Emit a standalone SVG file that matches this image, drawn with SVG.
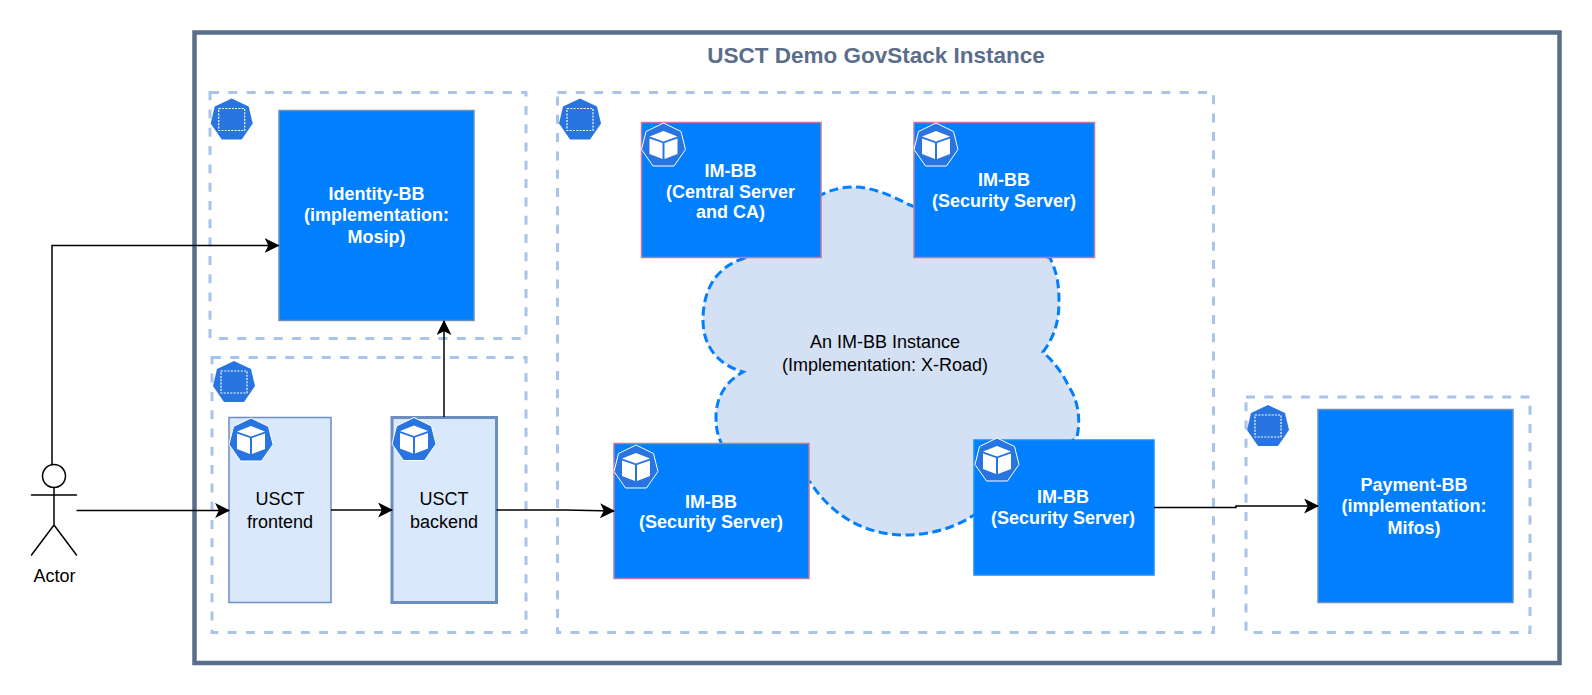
<svg xmlns="http://www.w3.org/2000/svg" xmlns:xlink="http://www.w3.org/1999/xlink" width="1592" height="695" viewBox="0 0 1592 695">
<style>
text{font-family:"Liberation Sans",Arial,sans-serif;font-size:18px;text-anchor:middle;fill:#000}
.w{fill:#fff;font-weight:bold}
.ns{fill:none;stroke:#a9c4eb;stroke-width:3;stroke-dasharray:9 9.300}
.bb{fill:#007fff;stroke-width:1.5}
.pk{stroke:#c07aa0}
.bl{stroke:#6c8ebf}
.lt{fill:#dae8fc;stroke:#6c8ebf;stroke-width:1.5}
.c{fill:none;stroke:#000;stroke-width:1.5}
.a{fill:none;stroke:#000;stroke-width:1.5;stroke-linecap:round}
</style>
<defs>
<marker id="ah" viewBox="0 0 14 14" refX="13" refY="7" markerWidth="15" markerHeight="15" markerUnits="userSpaceOnUse" orient="auto"><path d="M0 0L14 7L0 14L3.5 7Z" fill="#000"/></marker>
<g id="ns-icon"><path d="M0-21L17-13L21 4L10 20L-10 20L-21 4L-17-13Z" fill="#2875e2"/><rect x="-13" y="-11" width="26" height="22" fill="none" stroke="#fff" stroke-width="1.200" stroke-dasharray="2 1.300"/></g>
<g id="pod-icon"><path d="M0-22L17.500-13.500L22 4.500L10.500 21L-10.500 21L-22 4.500L-17.500-13.500Z" fill="#2875e2" stroke="#fff" stroke-width="1"/><path d="M0-14L14-8.500L0-3.500L-14-8.500Z" fill="#fff"/><path d="M-14-6.500L-1-2V14L-14 9Z" fill="#fff"/><path d="M14-6.500L1-2V14L14 9Z" fill="#fff"/></g>
</defs>

<g id="instance"><rect x="194.500" y="32.500" width="1365" height="630.500" fill="#fff" stroke="#5a6e8c" stroke-width="4.500"/><text x="876" y="63" style="font-size:22.500px;font-weight:bold;fill:#5a6e8c">USCT Demo GovStack Instance</text></g>

<g id="ns-identity"><rect class="ns" x="210" y="92.500" width="316" height="246"/><use xlink:href="#ns-icon" x="231.700" y="119.500"/></g>
<g id="ns-usct"><rect class="ns" x="212" y="357.500" width="314" height="275"/><use xlink:href="#ns-icon" x="234" y="382"/></g>
<g id="ns-imbb"><rect class="ns" x="557.500" y="92.500" width="656" height="540"/><use xlink:href="#ns-icon" x="580" y="119.500"/></g>
<g id="ns-payment"><rect class="ns" x="1246" y="397" width="284" height="235.500"/><use xlink:href="#ns-icon" x="1268" y="426"/></g>

<g id="cloud"><path d="M745 258C712 268 703 295 703 320C703 350 722 366 743 372C725 382 716 398 716 417C716 430 718 436 722 445L810 482C835 520 870 535 905 535C930 535 955 528 974 515L1077 437C1081 418 1078 400 1068 385C1062 372 1052 360 1043 352C1055 336 1059 320 1059 302C1059 285 1057 272 1050 258L910 205C890 195 872 187 853 187C842 187 830 190 821 195Z" fill="#d4e1f5" stroke="#007fff" stroke-width="3" stroke-dasharray="9 4.500"/><text x="885" y="348">An IM-BB Instance</text><text x="885" y="371">(Implementation: X-Road)</text></g>

<g id="identity-bb"><rect class="bb bl" x="279" y="110.500" width="195" height="210"/><text class="w" x="376.500" y="200">Identity-BB</text><text class="w" x="376.500" y="221.300">(implementation:</text><text class="w" x="376.500" y="243">Mosip)</text></g>
<g id="usct-frontend"><rect class="lt" x="229" y="417.500" width="102" height="185"/><use xlink:href="#pod-icon" x="251" y="440"/><text x="280" y="505">USCT</text><text x="280" y="528">frontend</text></g>
<g id="usct-backend"><rect class="lt" style="stroke-width:3" x="392" y="417.500" width="104.500" height="185"/><use xlink:href="#pod-icon" x="414" y="439.500"/><text x="444" y="505">USCT</text><text x="444" y="528">backend</text></g>
<g id="im-central"><rect class="bb pk" x="641.500" y="122.500" width="179.500" height="135"/><use xlink:href="#pod-icon" x="663.500" y="145"/><text class="w" x="730.500" y="177">IM-BB</text><text class="w" x="730.500" y="197.500">(Central Server</text><text class="w" x="730.500" y="218">and CA)</text></g>
<g id="im-sec-top"><rect class="bb pk" x="914" y="122.500" width="180.500" height="135"/><use xlink:href="#pod-icon" x="936" y="145"/><text class="w" x="1004" y="186">IM-BB</text><text class="w" x="1004" y="207">(Security Server)</text></g>
<g id="im-sec-left"><rect class="bb pk" x="614" y="443.500" width="195" height="135"/><use xlink:href="#pod-icon" x="636" y="467"/><text class="w" x="711" y="508">IM-BB</text><text class="w" x="711" y="528">(Security Server)</text></g>
<g id="im-sec-right"><rect class="bb" style="stroke:#1a8cff" x="974" y="440" width="180" height="135"/><use xlink:href="#pod-icon" x="997" y="460"/><text class="w" x="1063" y="503">IM-BB</text><text class="w" x="1063" y="524">(Security Server)</text></g>
<g id="payment-bb"><rect class="bb bl" x="1318" y="409.500" width="195" height="193"/><text class="w" x="1414" y="491">Payment-BB</text><text class="w" x="1414" y="512">(implementation:</text><text class="w" x="1414" y="534">Mifos)</text></g>

<g id="actor"><circle cx="54" cy="476" r="11.500" fill="#fff" stroke="#000" stroke-width="1.500"/><path class="a" d="M54 487.500V525M31.500 495H76.500M31.500 555L54 525L76.500 555"/><text x="54.500" y="582">Actor</text></g>

<g id="connectors">
<path class="c" d="M52 465V245.500H278.500" marker-end="url(#ah)"/>
<path class="c" d="M76.500 510.500H229" marker-end="url(#ah)"/>
<path class="c" d="M331 510H392" marker-end="url(#ah)"/>
<path class="c" d="M496.500 510H565L614 511" marker-end="url(#ah)"/>
<path class="c" d="M444 417V321" marker-end="url(#ah)"/>
<path class="c" d="M1154 507.500H1236V506H1318" marker-end="url(#ah)"/>
</g>
</svg>
